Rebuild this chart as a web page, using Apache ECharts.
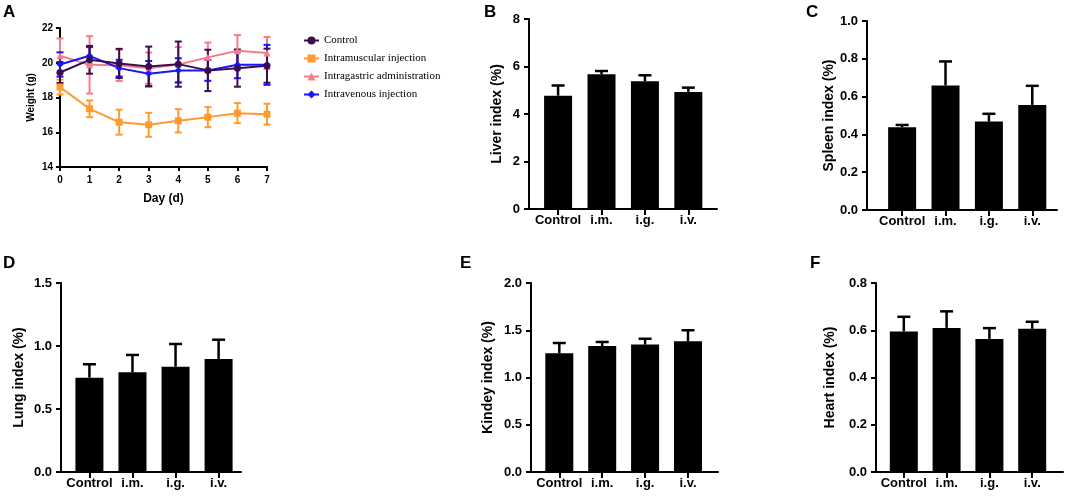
<!DOCTYPE html>
<html>
<head>
<meta charset="utf-8">
<script src="https://cdn.jsdelivr.net/npm/echarts@6/dist/echarts.min.js"></script>
<style>
  html, body { margin: 0; padding: 0; background: #fff; }
  #main { width: 1065px; height: 501px; }
</style>
</head>
<body>
<div id="main"></div>
<script>
// 体重曲线数据 (A)
var days = [0, 1, 2, 3, 4, 5, 6, 7];
var controlW  = [19.44, 20.17, 19.96, 19.79, 19.92, 19.56, 19.69, 19.83];
var controlSd = [0.6, 0.8, 0.84, 1.14, 1.3, 1.19, 1.07, 0.98];
var imW   = [18.6, 17.35, 16.58, 16.43, 16.66, 16.87, 17.1, 17.04];
var imSd  = [0.43, 0.48, 0.72, 0.69, 0.67, 0.58, 0.58, 0.6];
var igW   = [20.4, 19.88, 19.85, 19.69, 19.9, 20.31, 20.69, 20.56];
var igSd  = [1.0, 1.65, 0.9, 0.9, 1.0, 0.85, 0.9, 0.92];
var ivW   = [19.9, 20.4, 19.69, 19.37, 19.56, 19.56, 19.88, 19.88];
var ivSd  = [0.7, 0.5, 0.48, 0.73, 0.7, 0.6, 0.77, 1.15];
var groupNames = ['Control', 'Intramuscular injection', 'Intragastric administration', 'Intravenous injection'];

// 脏器指数 (B-F)
var categories = ['Control', 'i.m.', 'i.g.', 'i.v.'];
var liverMean  = [4.77, 5.67, 5.38, 4.93];
var liverErr   = [0.43, 0.14, 0.25, 0.18];
var spleenMean = [0.438, 0.659, 0.468, 0.556];
var spleenErr  = [0.012, 0.127, 0.041, 0.101];
var lungMean   = [0.749, 0.791, 0.836, 0.897];
var lungErr    = [0.106, 0.138, 0.18, 0.153];
var kidneyMean = [1.256, 1.333, 1.348, 1.383];
var kidneyErr  = [0.109, 0.043, 0.062, 0.117];
var heartMean  = [0.595, 0.61, 0.563, 0.606];
var heartErr   = [0.062, 0.07, 0.046, 0.03];

var FONT = 'Liberation Sans';
var myChart = echarts.init(document.getElementById('main'));

function pairs(xs, ys, es) {
    return xs.map(function (x, i) { return es ? [x, ys[i], es[i]] : [x, ys[i]]; });
}

// 误差线
function errRender(both, capW, color, lw) {
    return function (params, api) {
        var x = api.value(0), m = api.value(1), e = api.value(2);
        var top = api.coord([x, m + e]);
        var bot = api.coord([x, both ? m - e : m]);
        var style = { stroke: color, lineWidth: lw };
        var children = [
            { type: 'line', shape: { x1: top[0], y1: top[1], x2: bot[0], y2: bot[1] }, style: style },
            { type: 'line', shape: { x1: top[0] - capW / 2, y1: top[1], x2: top[0] + capW / 2, y2: top[1] }, style: style }
        ];
        if (both) {
            children.push({ type: 'line', shape: { x1: bot[0] - capW / 2, y1: bot[1], x2: bot[0] + capW / 2, y2: bot[1] }, style: style });
        }
        return { type: 'group', children: children };
    };
}

var grids = [], xAxes = [], yAxes = [], series = [];

// A: 体重
grids.push({ left: 60, top: 28, width: 207, height: 139 });
xAxes.push({
    gridIndex: 0, type: 'value', min: 0, max: 7, interval: 1,
    name: 'Day (d)', nameLocation: 'middle', nameGap: 26,
    nameTextStyle: { fontFamily: FONT, fontWeight: 'bold', fontSize: 12, color: '#000' },
    axisLine: { onZero: false, lineStyle: { color: '#000', width: 2 } },
    axisTick: { length: 4, lineStyle: { width: 2 } },
    axisLabel: { fontFamily: FONT, fontWeight: 'bold', fontSize: 10, color: '#000', margin: 8 },
    splitLine: { show: false }
});
yAxes.push({
    gridIndex: 0, type: 'value', min: 14, max: 22, interval: 2,
    name: 'Weight (g)', nameLocation: 'middle', nameGap: 24,
    nameTextStyle: { fontFamily: FONT, fontWeight: 'bold', fontSize: 10, color: '#000' },
    axisLine: { show: true, onZero: false, lineStyle: { color: '#000', width: 2 } },
    axisTick: { show: true, length: 4, lineStyle: { width: 2 } },
    axisLabel: { fontFamily: FONT, fontWeight: 'bold', fontSize: 10, color: '#000', margin: 7 },
    splitLine: { show: false }
});

var lineGroups = [
    { name: groupNames[0], w: controlW, sd: controlSd, color: '#3a0d4e', symbol: 'circle' },
    { name: groupNames[1], w: imW, sd: imSd, color: '#ff9a30', symbol: 'rect' },
    { name: groupNames[2], w: igW, sd: igSd, color: '#f77c86', symbol: 'triangle' },
    { name: groupNames[3], w: ivW, sd: ivSd, color: '#1616ff', symbol: 'diamond' }
];
// 先画浅色组，深色Control在最上
[2, 1, 3, 0].forEach(function (k) {
    var g = lineGroups[k];
    series.push({
        name: g.name + ' SD', type: 'custom', xAxisIndex: 0, yAxisIndex: 0,
        renderItem: errRender(true, 7, g.color, 2),
        data: pairs(days, g.w, g.sd), encode: { x: 0, y: 1 }, z: 2, silent: true
    });
    series.push({
        name: g.name, type: 'line', xAxisIndex: 0, yAxisIndex: 0,
        data: pairs(days, g.w), symbol: g.symbol, symbolSize: 7,
        itemStyle: { color: g.color }, lineStyle: { color: g.color, width: 2 }, z: 3
    });
});

// B-F: 柱状图
var barPanels = [
    { mean: liverMean,  err: liverErr,  name: 'Liver index (%)',  max: 8,   step: 2,   dec: 0, gap: 25, left: 529, top: 19,  w: 188, h: 190, xmin: -0.67, xmax: 3.66 },
    { mean: spleenMean, err: spleenErr, name: 'Spleen index (%)', max: 1.0, step: 0.2, dec: 1, gap: 31, left: 867, top: 21,  w: 190, h: 189, xmin: -0.81, xmax: 3.57 },
    { mean: lungMean,   err: lungErr,   name: 'Lung index (%)',   max: 1.5, step: 0.5, dec: 1, gap: 35, left: 61,  top: 283, w: 180, h: 189, xmin: -0.66, xmax: 3.52 },
    { mean: kidneyMean, err: kidneyErr, name: 'Kindey index (%)', max: 2.0, step: 0.5, dec: 1, gap: 36, left: 531, top: 283, w: 187, h: 189, xmin: -0.66, xmax: 3.7 },
    { mean: heartMean,  err: heartErr,  name: 'Heart index (%)',  max: 0.8, step: 0.2, dec: 1, gap: 39, left: 876, top: 283, w: 187, h: 189, xmin: -0.65, xmax: 3.72 }
];
var catIdx = [0, 1, 2, 3];

barPanels.forEach(function (p, i) {
    var gi = i + 1;
    grids.push({ left: p.left, top: p.top, width: p.w, height: p.h });
    xAxes.push({
        gridIndex: gi, type: 'value', min: p.xmin, max: p.xmax,
        axisLine: { onZero: false, lineStyle: { color: '#000', width: 2 } },
        axisTick: { customValues: catIdx, length: 6, lineStyle: { width: 2 } },
        axisLabel: {
            customValues: catIdx, fontFamily: FONT, fontWeight: 'bold', fontSize: 13, color: '#000', margin: 5,
            formatter: function (v) { return categories[Math.round(v)]; }
        },
        splitLine: { show: false }
    });
    yAxes.push({
        gridIndex: gi, type: 'value', min: 0, max: p.max, interval: p.step,
        name: p.name, nameLocation: 'middle', nameGap: p.gap,
        nameTextStyle: { fontFamily: FONT, fontWeight: 'bold', fontSize: 14, color: '#000' },
        axisLine: { show: true, onZero: false, lineStyle: { color: '#000', width: 2 } },
        axisTick: { show: true, length: 5, lineStyle: { width: 2 } },
        axisLabel: {
            fontFamily: FONT, fontWeight: 'bold', fontSize: 13, color: '#000', margin: 9,
            formatter: (function (d) { return function (v) { return v.toFixed(d); }; })(p.dec)
        },
        splitLine: { show: false }
    });
    series.push({
        type: 'bar', xAxisIndex: gi, yAxisIndex: gi,
        data: pairs(catIdx, p.mean), barWidth: 28,
        itemStyle: { color: '#000' }, z: 2
    });
    series.push({
        type: 'custom', xAxisIndex: gi, yAxisIndex: gi,
        renderItem: errRender(false, 13, '#000', 2.5),
        data: pairs(catIdx, p.mean, p.err), encode: { x: 0, y: 1 }, z: 3, silent: true
    });
});

// 面板字母
var letters = [
    { t: 'A', x: 3, y: 4 }, { t: 'B', x: 484, y: 4 }, { t: 'C', x: 806, y: 4 },
    { t: 'D', x: 3, y: 255 }, { t: 'E', x: 460, y: 255 }, { t: 'F', x: 810, y: 255 }
];

myChart.setOption({
    animation: false,
    grid: grids,
    xAxis: xAxes,
    yAxis: yAxes,
    legend: {
        data: groupNames, orient: 'vertical', left: 298, top: 30,
        itemWidth: 15, itemHeight: 10, itemGap: 7,
        textStyle: { fontFamily: 'Liberation Serif', fontSize: 11, color: '#000' }
    },
    graphic: letters.map(function (l) {
        return {
            type: 'text', left: l.x, top: l.y,
            style: { text: l.t, fontFamily: FONT, fontWeight: 'bold', fontSize: 17, fill: '#000' }
        };
    }),
    series: series
});
</script>
</body>
</html>
